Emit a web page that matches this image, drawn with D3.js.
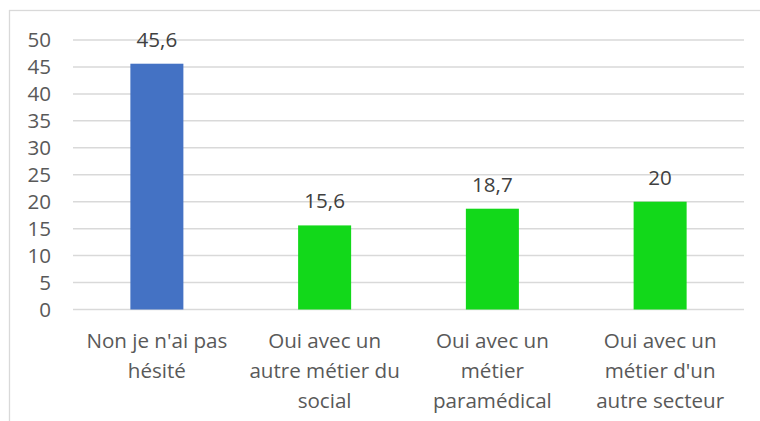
<!DOCTYPE html>
<html>
<head>
<meta charset="utf-8">
<script src="https://cdn.jsdelivr.net/npm/d3@7"></script>
<style>
  body { margin: 0; background: #fff; }
  text { font-family: "Open Sans", sans-serif; }
</style>
</head>
<body>
<div class="canvas"></div>
<script>
// data
var categories = [
  ["Non je n'ai pas", "hésité"],
  ["Oui avec un", "autre métier du", "social"],
  ["Oui avec un", "métier", "paramédical"],
  ["Oui avec un", "métier d'un", "autre secteur"]
]
var values = [45.6, 15.6, 18.7, 20]
var valueLabels = ["45,6", "15,6", "18,7", "20"]
var barColors = ["#4472c4", "#12d81a", "#12d81a", "#12d81a"]
var yTicks = [0, 5, 10, 15, 20, 25, 30, 35, 40, 45, 50]

var width = 760, height = 421
var fontSize = 20.6
var svg = d3.select(".canvas").append("svg").attr("width", width).attr("height", height)

// chart border (right/bottom edges run off the picture)
svg.append("rect")
    .attr("x", 9.5).attr("y", 10.5)
    .attr("width", 770).attr("height", 430)
    .attr("fill", "none")
    .attr("stroke", "#d9d9d9")
    .attr("stroke-width", 1.3)

var plot = {left: 73, right: 744, top: 40, bottom: 309.5}

var x = d3.scaleBand()
    .domain(d3.range(values.length))
    .range([plot.left, plot.right])
    .paddingInner(0.684)
    .paddingOuter(0.342)

var y = d3.scaleLinear().domain([0, 50]).range([plot.bottom, plot.top])

// gridlines
svg.append("g")
    .selectAll("line")
    .data(yTicks)
    .join("line")
    .attr("x1", plot.left)
    .attr("x2", plot.right)
    .attr("y1", d => y(d))
    .attr("y2", d => y(d))
    .attr("stroke", "#d9d9d9")
    .attr("stroke-width", 1.5)

// y tick labels
svg.append("g")
    .selectAll("text")
    .data(yTicks)
    .join("text")
    .attr("x", 51)
    .attr("y", d => y(d))
    .attr("dy", "0.36em")
    .attr("text-anchor", "end")
    .attr("font-size", fontSize)
    .attr("fill", "#595959")
    .text(d => d)

// bars
svg.append("g")
    .selectAll("rect")
    .data(values)
    .join("rect")
    .attr("x", (d, i) => x(i))
    .attr("width", x.bandwidth())
    .attr("y", d => y(d))
    .attr("height", d => y(0) - y(d))
    .attr("fill", (d, i) => barColors[i])

// value labels
svg.append("g")
    .selectAll("text")
    .data(values)
    .join("text")
    .attr("x", (d, i) => x(i) + x.bandwidth() / 2)
    .attr("y", d => y(d) - 17)
    .attr("text-anchor", "middle")
    .attr("font-size", fontSize)
    .attr("fill", "#404040")
    .text((d, i) => valueLabels[i])

// category labels, wrapped as in the reference
var cat = svg.append("g")
    .selectAll("text")
    .data(categories)
    .join("text")
    .attr("x", (d, i) => x(i) + x.bandwidth() / 2)
    .attr("y", 348)
    .attr("text-anchor", "middle")
    .attr("font-size", fontSize)
    .attr("fill", "#595959")

cat.each(function(lines, i) {
    var t = d3.select(this)
    lines.forEach(function(s, k) {
        t.append("tspan")
            .attr("x", x(i) + x.bandwidth() / 2)
            .attr("dy", k == 0 ? 0 : 30)
            .text(s)
    })
})
</script>
</body>
</html>
